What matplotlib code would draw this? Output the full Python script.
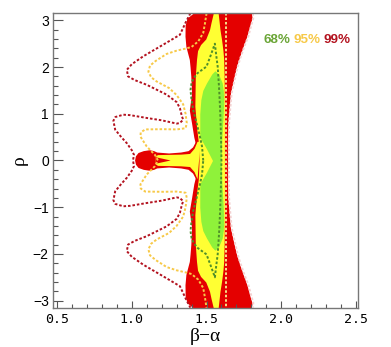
import numpy as np
import matplotlib.pyplot as plt
from matplotlib.ticker import MultipleLocator

# upper half (rho >= 0); the plot is mirror symmetric in rho
red_rho = [3.15, 3.05, 2.90, 2.66, 2.44, 2.16, 2.00, 1.80, 1.44, 1.08, 0.80, 0.50, 0.30, 0.00]
red_left = [1.41, 1.37, 1.357, 1.356, 1.362, 1.385, 1.39, 1.395, 1.40, 1.385, 1.40, 1.415, 1.43, 1.44]
red_right = [1.80, 1.805, 1.79, 1.77, 1.745, 1.715, 1.70, 1.685, 1.66, 1.65, 1.643, 1.641, 1.641, 1.641]

spike_x = [1.022, 1.028, 1.045, 1.08, 1.12, 1.15, 1.17, 1.25, 1.33, 1.38, 1.41, 1.43, 1.45]
spike_y = [0.00, 0.09, 0.16, 0.20, 0.22, 0.20, 0.17, 0.15, 0.17, 0.20, 0.28, 0.40, 0.40]

yel_rho = [3.15, 2.95, 2.80, 2.60, 2.48, 2.35, 2.16, 1.80, 1.16, 0.66, 0.40, 0.00]
yel_left = [1.545, 1.53, 1.52, 1.495, 1.46, 1.44, 1.433, 1.425, 1.422, 1.435, 1.445, 1.45]
yel_right = [1.578, 1.585, 1.59, 1.60, 1.605, 1.61, 1.615, 1.618, 1.62, 1.62, 1.62, 1.62]

yspike_x = [1.16, 1.16, 1.175, 1.25, 1.33, 1.39, 1.42, 1.44, 1.46]
yspike_y = [0.00, 0.08, 0.115, 0.12, 0.125, 0.14, 0.25, 0.40, 0.40]

notch_x = [1.16, 1.26]
notch_y = [0.07, 0.00]

grn_rho = [1.92, 1.85, 1.66, 1.50, 1.30, 1.00, 0.60, 0.50, 0.25, 0.00]
grn_left = [1.556, 1.535, 1.50, 1.475, 1.462, 1.455, 1.455, 1.455, 1.50, 1.54]
grn_right = [1.556, 1.58, 1.605, 1.612, 1.615, 1.612, 1.605, 1.603, 1.60, 1.597]

# dotted contours, upper half from the top edge down to rho = 0
c99_x = [1.392, 1.36, 1.322, 1.211, 1.077, 1.0, 0.967, 0.975, 1.02, 1.10, 1.233, 1.30, 1.322,
         1.335, 1.344, 1.32, 1.30, 1.20, 1.10, 0.99, 0.944, 0.89, 0.877, 0.889, 0.93, 0.967,
         1.0, 1.015, 1.008]
c99_y = [3.15, 2.95, 2.69, 2.48, 2.23, 2.06, 1.94, 1.80, 1.72, 1.62, 1.41, 1.25, 1.12,
         0.95, 0.87, 0.80, 0.79, 0.86, 0.91, 0.97, 0.98, 0.93, 0.85, 0.66, 0.50, 0.37,
         0.22, 0.12, 0.00]
c99r_x = [1.81, 1.813, 1.80, 1.78, 1.753, 1.723, 1.708, 1.693, 1.668, 1.658, 1.651, 1.649, 1.649]
c99r_y = [3.15, 3.05, 2.90, 2.66, 2.44, 2.16, 2.00, 1.80, 1.44, 1.08, 0.80, 0.30, 0.00]

c95_x = [1.50, 1.49, 1.478, 1.445, 1.40, 1.367, 1.30, 1.233, 1.16, 1.122, 1.111, 1.13, 1.167,
         1.25, 1.30, 1.344, 1.36, 1.368, 1.36, 1.30, 1.21, 1.09, 1.06, 1.058, 1.08, 1.10,
         1.155, 1.175]
c95_y = [3.15, 2.94, 2.73, 2.55, 2.43, 2.40, 2.35, 2.28, 2.13, 2.03, 1.90, 1.78, 1.69,
         1.55, 1.40, 1.20, 1.00, 0.80, 0.69, 0.665, 0.67, 0.665, 0.60, 0.51, 0.40, 0.30,
         0.12, 0.00]
c95r_x = [1.632, 1.632, 1.632]
c95r_y = [3.15, 1.50, 0.00]

c68_x = [1.478, 1.47, 1.456, 1.43, 1.41, 1.398, 1.393, 1.40, 1.413, 1.44, 1.50, 1.528, 1.556,
         1.565, 1.575, 1.585, 1.592, 1.597, 1.60]
c68_y = [0.00, 0.30, 0.51, 0.85, 1.09, 1.35, 1.51, 1.66, 1.76, 1.87, 2.01, 2.25, 2.50,
         2.25, 2.00, 1.50, 1.00, 0.50, 0.00]

labels = ["68%", "95%", "99%"]
label_colors = ["#6aa536", "#f7c948", "#b3121f"]


def mirror_band(rho, left, right):
    rho = np.asarray(rho); left = np.asarray(left); right = np.asarray(right)
    r = np.concatenate([rho, -rho[::-1][1:]])
    l = np.concatenate([left, left[::-1][1:]])
    rr = np.concatenate([right, right[::-1][1:]])
    return r, l, rr


def mirror_path(x, y):
    x = np.asarray(x); y = np.asarray(y)
    return np.concatenate([x, x[::-1][1:]]), np.concatenate([y, -y[::-1][1:]])


fig = plt.figure(figsize=(3.91, 3.47), dpi=100)
ax = fig.add_axes([0.1355, 0.1133, 0.78, 0.8484])

red, yellow, green = "#e40000", "#ffff33", "#8ff23a"

r, l, rr = mirror_band(red_rho, red_left, red_right)
ax.fill_betweenx(r, l, rr, color=red, lw=0)
sx, sy = mirror_path(spike_x, spike_y)
ax.fill(sx, sy, color=red, lw=0)

r, l, rr = mirror_band(yel_rho, yel_left, yel_right)
ax.fill_betweenx(r, l, rr, color=yellow, lw=0)
sx, sy = mirror_path(yspike_x, yspike_y)
ax.fill(sx, sy, color=yellow, lw=0)
nx, ny = mirror_path(notch_x, notch_y)
ax.fill(nx, ny, color=red, lw=0)

r, l, rr = mirror_band(grn_rho, grn_left, grn_right)
ax.fill_betweenx(r, l, rr, color=green, lw=0)

dots = (0, (1.3, 1.0))
for px, py, c in [(c99_x, c99_y, "#b3121f"), (c99r_x, c99r_y, "#f3d0d0"),
                  (c95_x, c95_y, "#f7c948"), (c95r_x, c95r_y, "#f6e08a"),
                  (c68_x, c68_y, "#4f8f2a")]:
    mx, my = mirror_path(px, py)
    ax.plot(mx, my, color=c, lw=1.4, ls=dots)

ax.set_xlim(0.473, 2.513)
ax.set_ylim(-3.15, 3.15)
ax.xaxis.set_major_locator(MultipleLocator(0.5))
ax.xaxis.set_minor_locator(MultipleLocator(0.1))
ax.yaxis.set_major_locator(MultipleLocator(1))
ax.yaxis.set_minor_locator(MultipleLocator(0.2))
ax.tick_params(axis="both", which="both", direction="in", color="#555555", top=False, right=False)
ax.tick_params(axis="y", which="major", length=7, width=0.8, labelsize=10, pad=3)
ax.tick_params(axis="y", which="minor", length=3.6, width=0.8)
ax.tick_params(axis="x", which="major", length=5.4, width=0.8, labelsize=9.5, pad=4)
ax.tick_params(axis="x", which="minor", length=3, width=0.8)
for t in ax.get_yticklabels():
    t.set_family("Liberation Sans")
for t in ax.get_xticklabels():
    t.set_family("DejaVu Sans Mono")
for s in ax.spines.values():
    s.set_color("#777777")
    s.set_linewidth(1.0)

ax.set_xlabel("β\u2212α", family="Liberation Serif", fontsize=14, labelpad=1)
ax.set_ylabel("ρ", family="Liberation Serif", fontsize=14, labelpad=4)

for i, (txt, c) in enumerate(zip(labels, label_colors)):
    ax.text(0.690 + 0.098 * i, 0.909, txt, color=c, transform=ax.transAxes,
            family="Liberation Sans", fontweight="bold", fontsize=9.6, va="center", ha="left")

fig.savefig("out.png", dpi=100)
